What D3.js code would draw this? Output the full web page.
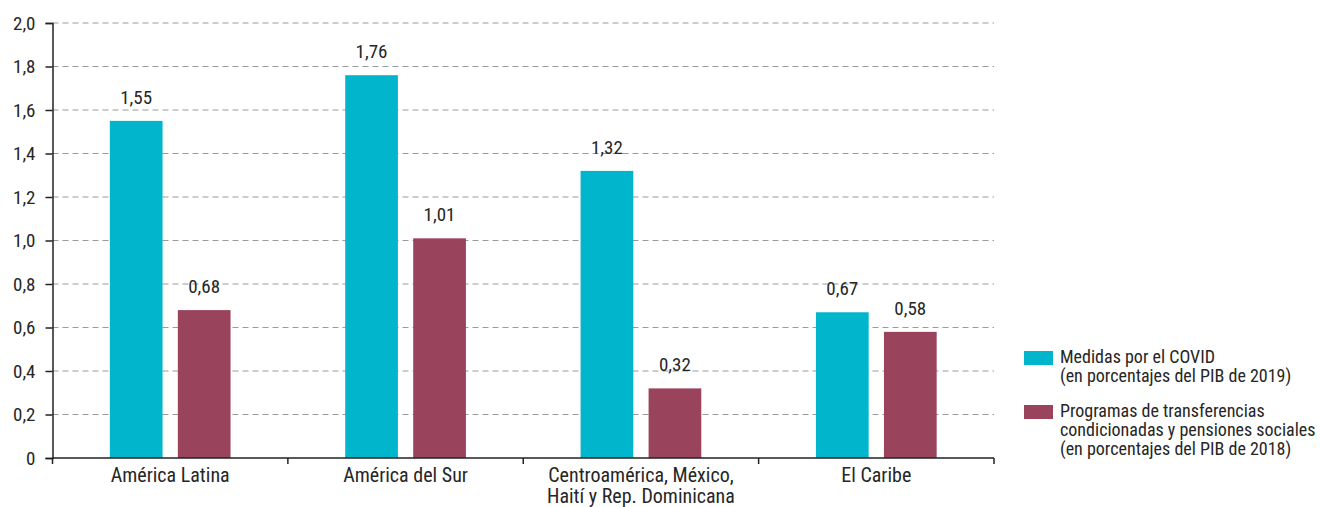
<!DOCTYPE html>
<html><head><meta charset="utf-8">
<script src="https://cdn.jsdelivr.net/npm/d3@7"></script>
<style>
html,body{margin:0;padding:0;background:#fff;}
svg text{font-family:"Liberation Sans Narrow","Roboto Condensed","DejaVu Sans Condensed",sans-serif;fill:#262626;}
</style></head>
<body>
<svg id="chart" width="1320" height="507"></svg>
<script>
const categories = [["América Latina"],["América del Sur"],["Centroamérica, México,","Haití y Rep. Dominicana"],["El Caribe"]];
const covid = [1.55, 1.76, 1.32, 0.67];
const programas = [0.68, 1.01, 0.32, 0.58];
const seriesNames = [["Medidas por el COVID","(en porcentajes del PIB de 2019)"],["Programas de transferencias","condicionadas y pensiones sociales","(en porcentajes del PIB de 2018)"]];
const colors = ["#00b5cc","#99435c"];
const yTicks = [0,0.2,0.4,0.6,0.8,1.0,1.2,1.4,1.6,1.8,2.0];

(function(){
const svg = d3.select("#chart");
const mLeft = 52.5, mRight = 994, mTop = 23, mBottom = 458;
const FS = 19;
const fmt = v => v === 0 ? "0" : d3.format(".1f")(v).replace(".", ",");
const fmt2 = v => d3.format(".2f")(v).replace(".", ",");

const x = d3.scaleBand().domain(d3.range(categories.length)).range([mLeft, mRight]);
const y = d3.scaleLinear().domain([0, 2]).range([mBottom, mTop]);
const barW = 52.7, offset = 34;

svg.append("g").selectAll("line").data(yTicks.filter(d => d > 0)).join("line")
  .attr("x1", mLeft).attr("x2", mRight).attr("y1", d => y(d)).attr("y2", d => y(d))
  .attr("stroke", "#9a9a9a").attr("stroke-width", 1).attr("stroke-dasharray", "6,4");

const series = [covid, programas];
series.forEach((vals, si) => {
  const g = svg.append("g");
  g.selectAll("rect").data(vals).join("rect")
    .attr("x", (d, i) => x(i) + x.bandwidth() / 2 + (si === 0 ? -offset : offset) - barW / 2)
    .attr("width", barW)
    .attr("y", d => y(d)).attr("height", d => mBottom - y(d))
    .attr("fill", colors[si]);
  g.selectAll("text").data(vals).join("text")
    .attr("x", (d, i) => x(i) + x.bandwidth() / 2 + (si === 0 ? -offset : offset))
    .attr("y", d => y(d) - 17)
    .attr("text-anchor", "middle").attr("font-size", FS)
    .text(d => fmt2(d));
});

const yAxis = svg.append("g").attr("transform", `translate(${mLeft},0)`)
  .call(d3.axisLeft(y).tickValues(yTicks).tickFormat(fmt).tickSizeOuter(0).tickSize(7).tickPadding(10));
yAxis.attr("font-family", null).attr("font-size", null);
yAxis.select(".domain").attr("stroke", "#222").attr("stroke-width", 1.5);
yAxis.selectAll(".tick line").attr("stroke", "#222").attr("stroke-width", 1.5);
yAxis.selectAll("text").attr("font-size", FS).attr("fill", "#262626");

svg.append("line").attr("x1", mLeft).attr("x2", mRight).attr("y1", mBottom).attr("y2", mBottom)
  .attr("stroke", "#222").attr("stroke-width", 1.5);
const sepTicks = d3.range(categories.length + 1).map(i => i < categories.length ? x(i) : mRight);
svg.append("g").selectAll("line").data(sepTicks).join("line")
  .attr("x1", d => d).attr("x2", d => d).attr("y1", mBottom).attr("y2", mBottom + 6)
  .attr("stroke", "#222").attr("stroke-width", 1.5);
const cl = svg.append("g").selectAll("text").data(categories).join("text")
  .attr("x", (d, i) => x(i) + x.bandwidth() / 2)
  .attr("y", 482).attr("text-anchor", "middle").attr("font-size", 20);
cl.selectAll("tspan").data(d => d).join("tspan")
  .attr("x", function(){ return this.parentNode.getAttribute("x"); })
  .attr("dy", (d, i) => i === 0 ? 0 : 21).text(d => d);

const legY = [351, 405];
seriesNames.forEach((lines, si) => {
  svg.append("rect").attr("x", 1024).attr("y", legY[si]).attr("width", 29).attr("height", 14).attr("fill", colors[si]);
  const t = svg.append("text").attr("x", 1060).attr("y", legY[si] + 12).attr("font-size", 18);
  t.selectAll("tspan").data(lines).join("tspan").attr("x", 1060)
    .attr("dy", (d, i) => i === 0 ? 0 : 19).text(d => d);
});
})();
</script>
</body></html>
